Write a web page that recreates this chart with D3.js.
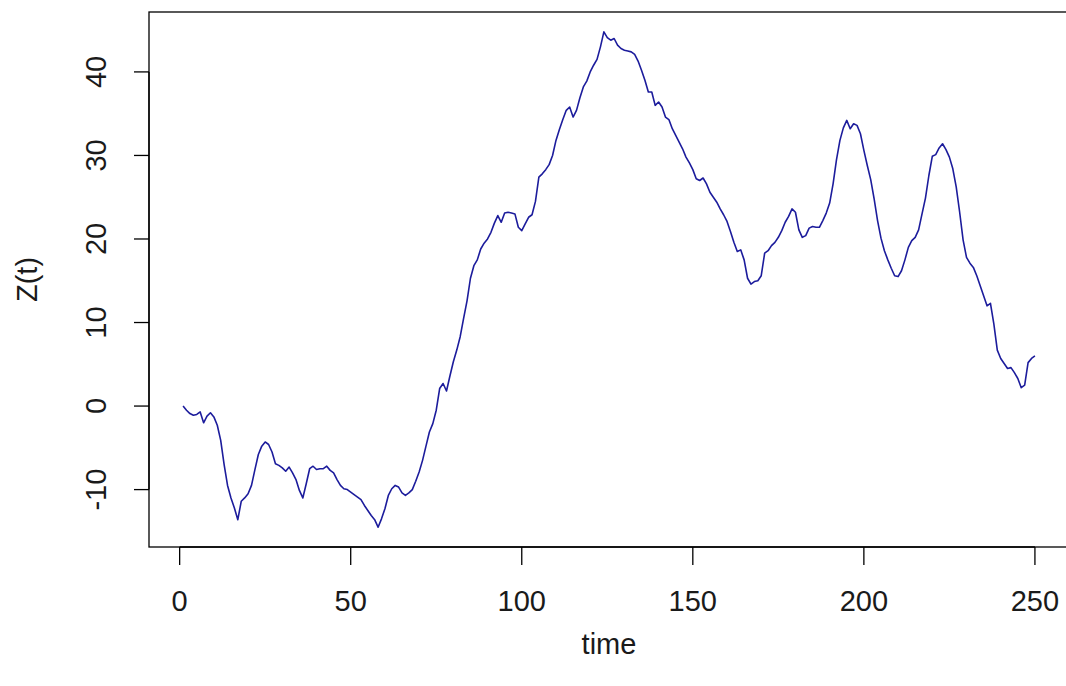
<!DOCTYPE html>
<html>
<head>
    <meta charset="utf-8">
    <title>Z(t)</title>
    <style>
        body { margin: 0; background: #fff; }
        text { font-family: "Liberation Sans", Arial, sans-serif; fill: #1a1a1a; }
        .line { fill: none; stroke: #1c1c9c; stroke-width: 1.6px; stroke-linejoin: round; }
        .frame { fill: none; stroke: #000; stroke-width: 1.3px; }
        .tick-line { stroke: #000; stroke-width: 1.3px; }
    </style>
</head>
<body>
<script src="https://cdn.jsdelivr.net/npm/d3@7"></script>
<script>
    // values, one per time step t = 1..250
    var zValues = [
        0.0, -0.5, -0.9, -1.1, -1.0, -0.7, -2.0, -1.2, -0.8, -1.3,
        -2.3, -4.1, -7.0, -9.5, -11.0, -12.2, -13.6, -11.4, -11.0, -10.5,
        -9.5, -7.6, -5.8, -4.8, -4.3, -4.6, -5.5, -6.9, -7.1, -7.4,
        -7.8, -7.3, -8.0, -8.8, -10.1, -11.0, -9.3, -7.5, -7.2, -7.6,
        -7.5, -7.5, -7.2, -7.7, -8.0, -8.8, -9.5, -9.9, -10.0, -10.3,
        -10.6, -10.9, -11.2, -11.9, -12.5, -13.1, -13.6, -14.5, -13.5, -12.3,
        -10.7, -9.9, -9.5, -9.7, -10.4, -10.7, -10.4, -10.0, -9.0, -7.9,
        -6.5, -4.8, -3.1, -2.1, -0.5, 2.1, 2.7, 1.8, 3.6, 5.3,
        6.7, 8.3, 10.5, 12.6, 15.3, 16.8, 17.5, 18.8, 19.5, 20.0,
        20.8, 21.9, 22.8, 22.0, 23.1, 23.2, 23.1, 23.0, 21.4, 21.0,
        21.8, 22.6, 22.9, 24.5, 27.4, 27.8, 28.3, 28.9, 30.0, 31.8,
        33.1, 34.3, 35.4, 35.8, 34.6, 35.4, 36.9, 38.2, 38.9, 40.0,
        40.8, 41.5, 43.0, 44.8, 44.1, 43.8, 44.0, 43.2, 42.8, 42.6,
        42.5, 42.4, 42.1, 41.3, 40.2, 39.0, 37.6, 37.6, 36.0, 36.4,
        35.8, 34.6, 34.3, 33.2, 32.4, 31.6, 30.8, 29.8, 29.1, 28.3,
        27.2, 27.0, 27.3, 26.6, 25.6, 25.0, 24.4, 23.6, 22.9, 22.1,
        20.9, 19.6, 18.5, 18.7, 17.5, 15.3, 14.6, 14.9, 15.0, 15.6,
        18.3, 18.6, 19.2, 19.6, 20.2, 21.0, 22.0, 22.7, 23.6, 23.2,
        21.1, 20.2, 20.4, 21.3, 21.5, 21.4, 21.4, 22.2, 23.1, 24.3,
        26.6, 29.5, 31.8, 33.3, 34.2, 33.2, 33.8, 33.6, 32.6, 30.6,
        28.8, 27.1, 24.8, 22.2, 20.1, 18.6, 17.5, 16.5, 15.6, 15.5,
        16.2, 17.5, 19.0, 19.8, 20.2, 21.1, 23.0, 24.9, 27.6, 29.9,
        30.1, 30.9, 31.4, 30.7, 29.8, 28.4, 26.2, 23.2, 19.9, 17.8,
        17.1, 16.6, 15.6, 14.4, 13.2, 12.0, 12.3, 9.8, 6.7, 5.7,
        5.1, 4.5, 4.6, 4.0, 3.3, 2.2, 2.5, 5.2, 5.7, 6.0
    ];
    var timeSteps = d3.range(1, zValues.length + 1);
    var xTicks = [0, 50, 100, 150, 200, 250];
    var yTicks = [-10, 0, 10, 20, 30, 40];

    var W = 1066, H = 686;
    // plot region (R style: box is drawn round it, the right edge falls off the page)
    var plot = {left: 149, right: 1069, top: 12, bottom: 547};

    var svg = d3.select("body").append("svg")
        .attr("width", W)
        .attr("height", H);

    // R pads the data range by 4% on each side
    function padded(ext) {
        var d = (ext[1] - ext[0]) * 0.04;
        return [ext[0] - d, ext[1] + d];
    }

    var x = d3.scaleLinear()
        .domain(padded(d3.extent(timeSteps)))
        .range([plot.left, plot.right]);
    var y = d3.scaleLinear()
        .domain(padded(d3.extent(zValues)))
        .range([plot.bottom, plot.top]);

    // the series
    var line = d3.line()
        .x(function (d, i) { return x(timeSteps[i]); })
        .y(function (d) { return y(d); });

    svg.append("path")
        .datum(zValues)
        .attr("class", "line")
        .attr("d", line);

    // box
    svg.append("rect")
        .attr("class", "frame")
        .attr("x", plot.left)
        .attr("y", plot.top)
        .attr("width", plot.right - plot.left)
        .attr("height", plot.bottom - plot.top);

    // x axis
    var xAxis = svg.append("g").attr("class", "x-axis");
    xAxis.append("line")
        .attr("class", "tick-line")
        .attr("x1", x(xTicks[0])).attr("x2", x(xTicks[xTicks.length - 1]))
        .attr("y1", plot.bottom).attr("y2", plot.bottom);
    xAxis.selectAll("line.t")
        .data(xTicks).enter().append("line")
        .attr("class", "tick-line t")
        .attr("x1", function (d) { return x(d); })
        .attr("x2", function (d) { return x(d); })
        .attr("y1", plot.bottom)
        .attr("y2", plot.bottom + 18);
    xAxis.selectAll("text")
        .data(xTicks).enter().append("text")
        .attr("x", function (d) { return x(d); })
        .attr("y", 611)
        .attr("text-anchor", "middle")
        .style("font-size", "29px")
        .text(function (d) { return d; });

    // y axis, labels turned like R's las=0
    var yAxis = svg.append("g").attr("class", "y-axis");
    yAxis.append("line")
        .attr("class", "tick-line")
        .attr("x1", plot.left).attr("x2", plot.left)
        .attr("y1", y(yTicks[0])).attr("y2", y(yTicks[yTicks.length - 1]));
    yAxis.selectAll("line.t")
        .data(yTicks).enter().append("line")
        .attr("class", "tick-line t")
        .attr("x1", plot.left)
        .attr("x2", plot.left - 15)
        .attr("y1", function (d) { return y(d); })
        .attr("y2", function (d) { return y(d); });
    yAxis.selectAll("text")
        .data(yTicks).enter().append("text")
        .attr("transform", function (d) { return "translate(106," + y(d) + ") rotate(-90)"; })
        .attr("text-anchor", "middle")
        .style("font-size", "29px")
        .text(function (d) { return d; });

    // axis titles
    svg.append("text")
        .attr("x", (plot.left + plot.right) / 2)
        .attr("y", 654)
        .attr("text-anchor", "middle")
        .style("font-size", "29px")
        .text("time");

    svg.append("text")
        .attr("transform", "translate(37," + (plot.top + plot.bottom) / 2 + ") rotate(-90)")
        .attr("text-anchor", "middle")
        .style("font-size", "29px")
        .text("Z(t)");
</script>
</body>
</html>
